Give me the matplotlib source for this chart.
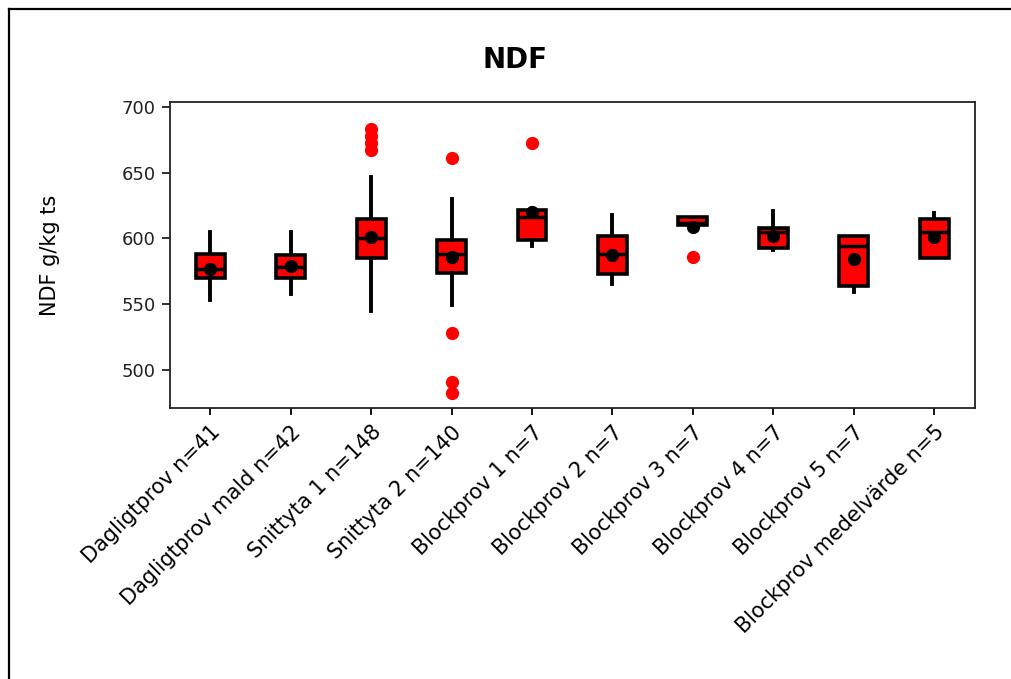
import numpy as np
import matplotlib
matplotlib.use('Agg')
import matplotlib.pyplot as plt
from matplotlib.lines import Line2D

## data
labels = ['Dagligtprov n=41', 'Dagligtprov mald n=42', 'Snittyta 1 n=148', 'Snittyta 2 n=140',
          'Blockprov 1 n=7', 'Blockprov 2 n=7', 'Blockprov 3 n=7', 'Blockprov 4 n=7',
          'Blockprov 5 n=7', 'Blockprov medelvärde n=5']
q1     = [570, 570, 585, 574, 599, 573, 610, 593, 564, 585]
med    = [577, 578, 600, 588, 616, 588, 612, 605, 594, 605]
q3     = [588, 587, 615, 599, 622, 602, 616, 608, 602, 615]
mean   = [577, 579, 601, 586, 620, 587, 609, 602, 584, 601]
whislo = [553, 558, 545, 549, 594, 565, 610, 591, 559, 585]
whishi = [605, 605, 647, 630, 623, 618, 616, 621, 602, 619]
fliers = [[], [], [683, 678, 673, 667], [661, 528, 491, 482], [673], [], [586], [], [], []]

## settings
title  = 'NDF'
ylabel = 'NDF g/kg ts'
yticks = [500, 550, 600, 650, 700]
plt.rcParams['font.family'] = ['DejaVu Sans']

stats = [dict(label=l, q1=a, med=m, q3=b, mean=mn, whislo=lo, whishi=hi, fliers=f)
         for l, a, m, b, mn, lo, hi, f in zip(labels, q1, med, q3, mean, whislo, whishi, fliers)]

## figure and axes
fig = plt.figure(figsize=(10.11, 6.79), dpi=100)
ax  = fig.add_axes([0.168, 0.399, 0.796, 0.451])

ax.bxp(stats, positions=np.arange(1, len(labels) + 1), widths=0.36, patch_artist=True,
       showmeans=True, showcaps=False,
       boxprops=dict(facecolor='#ff0000', edgecolor='black', linewidth=2.6),
       medianprops=dict(color='black', linewidth=2.5),
       whiskerprops=dict(color='black', linewidth=2.8),
       meanprops=dict(marker='o', markerfacecolor='black', markeredgecolor='black', markersize=8.5),
       flierprops=dict(marker='o', markerfacecolor='#ff0000', markeredgecolor='#ff0000', markersize=8.5))

ax.set_xlim(0.5, 10.5)
ax.set_ylim(470.8, 704)
ax.set_yticks(yticks)
ax.set_xticks(np.arange(1, len(labels) + 1))
ax.set_xticklabels(labels, rotation=45, ha='right', rotation_mode='anchor', fontsize=15)
ax.tick_params(axis='y', labelsize=13, length=6, width=1.3, pad=4, colors='#222222')
ax.tick_params(axis='x', length=5, width=1.3, pad=5)
for sp in ax.spines.values():
    sp.set_linewidth(1.3)
    sp.set_color('#222222')

ax.set_ylabel(ylabel, fontsize=15)
ax.yaxis.set_label_coords(-0.136, 0.5)
fig.text(0.509, 0.912, title, ha='center', va='center', fontsize=20, fontweight='bold')

## outer frame (left + top only)
fig.add_artist(Line2D([0.0089, 0.0089], [0, 0.9867], color='black', linewidth=1.6, transform=fig.transFigure))
fig.add_artist(Line2D([0.0089, 1.0], [0.9867, 0.9867], color='black', linewidth=1.6, transform=fig.transFigure))

fig.savefig('out.png', dpi=100)
plt.close(fig)
